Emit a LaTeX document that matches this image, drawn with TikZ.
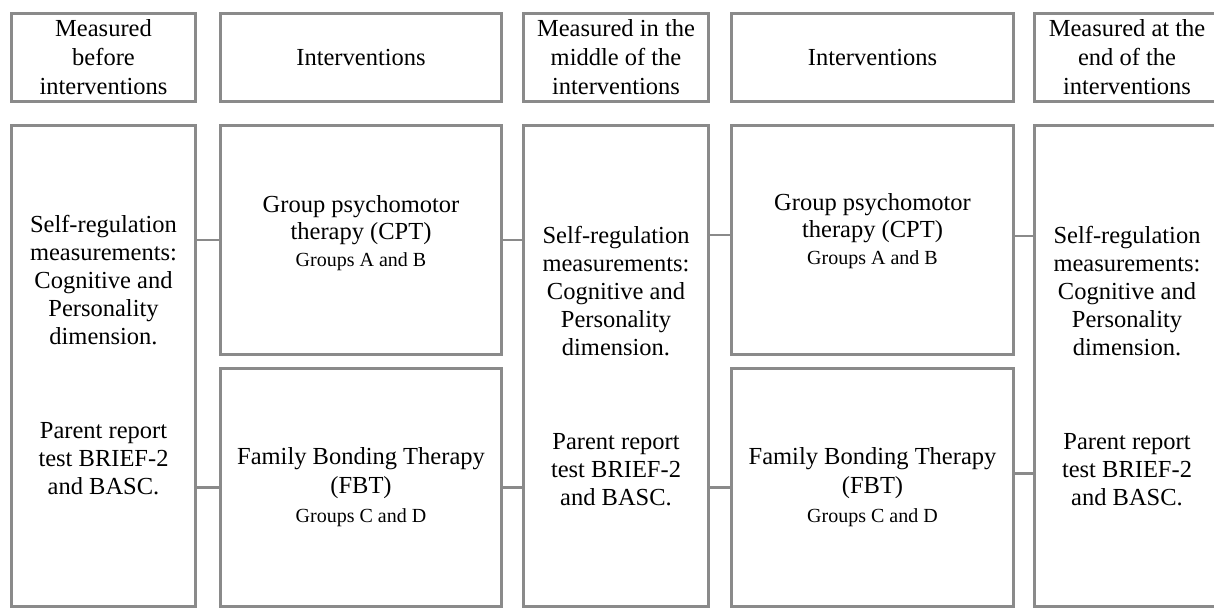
\documentclass[tikz,border=0pt]{standalone}
\usepackage{fontspec}
\setmainfont{Liberation Serif}
\usepackage{tikz}
\definecolor{boxgray}{RGB}{138,138,138}
\newcommand{\px}{0.5pt}
\newcommand{\grp}[1]{{\fontsize{10}{12}\selectfont #1}}

\begin{document}
\begin{tikzpicture}[x=\px, y=-\px,
    rect/.style={draw=boxgray, line width=1.5pt, rectangle, anchor=north west, inner sep=0pt, align=center, font=\fontsize{12.25}{14.5}\selectfont},
    link/.style={draw=boxgray, line width=1.3pt}]
    \useasboundingbox (0,0) rectangle (1214,607);

    % First row
    \node[rect, minimum width=184*\px, minimum height=88*\px] (top-1) at (10,12) {Measured\\before\\interventions};
    \node[rect, minimum width=281*\px, minimum height=88*\px] (top-2) at (219,12) {Interventions};
    \node[rect, minimum width=185*\px, minimum height=88*\px] (top-3) at (522,12) {Measured in the\\middle of the\\interventions};
    \node[rect, minimum width=282*\px, minimum height=88*\px] (top-4) at (730,12) {Interventions};
    \node[rect, minimum width=185*\px, minimum height=88*\px] (top-5) at (1033,12) {Measured at the\\end of the\\interventions};

    % Second row
    \node[rect, minimum width=184*\px, minimum height=481*\px] (meas-1) at (10,124) {};
    \node[rect, minimum width=281*\px, minimum height=229*\px, font=\fontsize{12.25}{13.5}\selectfont] (cpt-1) at (219,124) {Group psychomotor\\therapy (CPT)\\\grp{Groups A and B}\\[-4pt]};
    \node[rect, minimum width=281*\px, minimum height=238*\px] (fbt-1) at (219,367) {Family Bonding Therapy\\(FBT)\\\grp{Groups C and D}};
    \node[rect, minimum width=185*\px, minimum height=481*\px] (meas-2) at (522,124) {};
    \node[rect, minimum width=282*\px, minimum height=229*\px, font=\fontsize{12.25}{13.5}\selectfont] (cpt-2) at (730,124) {Group psychomotor\\therapy (CPT)\\\grp{Groups A and B}\\[-2pt]};
    \node[rect, minimum width=282*\px, minimum height=238*\px] (fbt-2) at (730,367) {Family Bonding Therapy\\(FBT)\\\grp{Groups C and D}};
    \node[rect, minimum width=185*\px, minimum height=481*\px] (meas-3) at (1033,124) {};

    % Texts of the measurement boxes
    \node[align=center, font=\fontsize{12.25}{14}\selectfont] (meas-1-txt) at ([yshift=5.5pt]meas-1.center) {Self-regulation\\measurements:\\Cognitive and\\Personality\\dimension.\\[33pt]Parent report\\test BRIEF-2\\and BASC.};
    \node[align=center, font=\fontsize{12.25}{14}\selectfont] (meas-2-txt) at (meas-2.center) {Self-regulation\\measurements:\\Cognitive and\\Personality\\dimension.\\[33pt]Parent report\\test BRIEF-2\\and BASC.};
    \node[align=center, font=\fontsize{12.25}{14}\selectfont] (meas-3-txt) at (meas-3.center) {Self-regulation\\measurements:\\Cognitive and\\Personality\\dimension.\\[33pt]Parent report\\test BRIEF-2\\and BASC.};

    % Connections
    \draw[link] (cpt-1.west) -- (cpt-1.west -| meas-1.east);
    \draw[link] (fbt-1.west) -- (fbt-1.west -| meas-1.east);
    \draw[link] (cpt-1.east) -- (cpt-1.east -| meas-2.west);
    \draw[link] (fbt-1.east) -- (fbt-1.east -| meas-2.west);
    \draw[link] ([yshift=2.5pt]cpt-2.west) -- ([yshift=2.5pt]cpt-2.west -| meas-2.east);
    \draw[link] (fbt-2.west) -- (fbt-2.west -| meas-2.east);
    \draw[link] ([yshift=2pt]cpt-2.east) -- ([yshift=2pt]cpt-2.east -| meas-3.west);
    \draw[link] ([yshift=7pt]fbt-2.east) -- ([yshift=7pt]fbt-2.east -| meas-3.west);

\end{tikzpicture}
\end{document}
